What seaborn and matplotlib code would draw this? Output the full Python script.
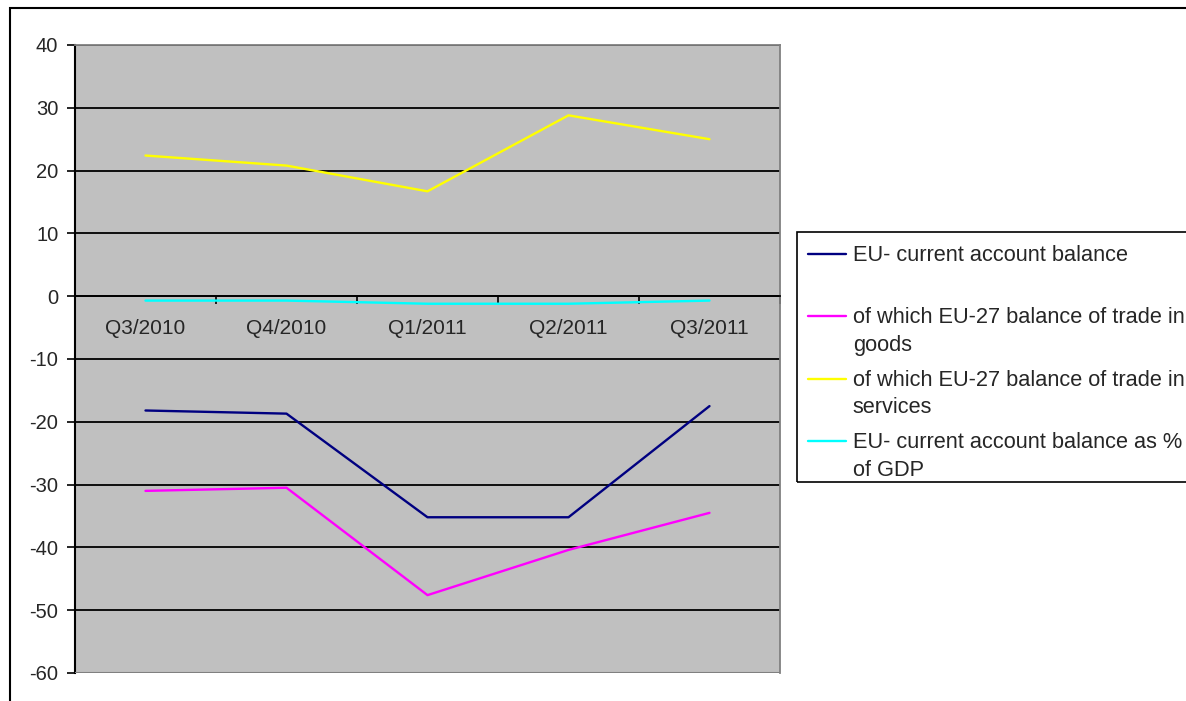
import numpy as np
import pandas as pd
import matplotlib
matplotlib.use("Agg")
import matplotlib.pyplot as plt
import seaborn as sns
from matplotlib.patches import Rectangle

quarters = ["Q3/2010", "Q4/2010", "Q1/2011", "Q2/2011", "Q3/2011"]
current_account = [-18.2, -18.7, -35.2, -35.2, -17.5]
trade_goods = [-31.0, -30.5, -47.6, -40.4, -34.5]
trade_services = [22.4, 20.8, 16.7, 28.8, 25.0]
ca_pct_gdp = [-0.7, -0.7, -1.2, -1.2, -0.7]

series_names = [
    "EU- current account balance",
    "of which EU-27 balance of trade in goods",
    "of which EU-27 balance of trade in services",
    "EU- current account balance as % of GDP",
]
legend_labels = [
    "EU- current account balance\n ",
    "of which EU-27 balance of trade in\ngoods",
    "of which EU-27 balance of trade in\nservices",
    "EU- current account balance as %\nof GDP",
]
colors = ["#000080", "#FF00FF", "#FFFF00", "#00FFFF"]
yticks = [-60, -50, -40, -30, -20, -10, 0, 10, 20, 30, 40]

sns.set_theme(style="white")
plt.rcParams["font.family"] = ["Liberation Sans", "DejaVu Sans"]

rows = []
for name, vals in zip(series_names, [current_account, trade_goods, trade_services, ca_pct_gdp]):
    for i, v in enumerate(vals):
        rows.append({"x": i, "quarter": quarters[i], "value": v, "series": name})
df = pd.DataFrame(rows)

DPI = 100
W, H = 1186, 701
fig = plt.figure(figsize=(W / DPI, H / DPI), dpi=DPI)
ax = fig.add_axes([75 / W, 1 - 673 / H, (780 - 75) / W, (673 - 45) / H])
ax.set_facecolor("#C0C0C0")

sns.lineplot(data=df, x="x", y="value", hue="series", hue_order=series_names,
             palette=dict(zip(series_names, colors)), sort=False, legend=False,
             linewidth=1.7, ax=ax, zorder=3)

ax.set_xlim(-0.5, 4.5)
ax.set_ylim(-60, 40)
ax.set_yticks(yticks)
ax.set_yticklabels([str(t) for t in yticks], fontsize=14.5)
ax.yaxis.grid(True, color="black", linewidth=1.3)
ax.set_axisbelow(True)
ax.set_xlabel("")
ax.set_ylabel("")

# x axis at zero, boundary ticks + centered labels
ax.spines["bottom"].set_position(("data", 0))
ax.spines["bottom"].set_color("black")
ax.spines["bottom"].set_linewidth(1.3)
ax.spines["bottom"].set_zorder(2.8)
ax.set_xticks(np.arange(-0.5, 5.0, 1.0))
ax.set_xticklabels([])
ax.set_xticks(np.arange(len(quarters)), minor=True)
ax.set_xticklabels(quarters, minor=True, fontsize=15)
ax.tick_params(axis="x", which="major", direction="out", length=6, width=1.2, color="black", bottom=True)
ax.tick_params(axis="x", which="minor", length=0, pad=16.5)
ax.tick_params(axis="y", direction="out", length=5.5, width=1.2, color="black", left=True, pad=6.5)

ax.spines["left"].set_color("black")
ax.spines["left"].set_linewidth(1.5)
for s in ["top", "right"]:
    ax.spines[s].set_color("#808080")
    ax.spines[s].set_linewidth(1.3)
ax.axhline(-60, color="#808080", linewidth=1.5, zorder=2.6)

LEG_FS = 15.7
handles = ax.get_lines()[:4]
leg = fig.legend(handles, legend_labels, loc="upper left",
                 bbox_to_anchor=(795 / W, 1 - 232 / H), bbox_transform=fig.transFigure,
                 frameon=False, fontsize=LEG_FS,
                 handlelength=1.75, handletextpad=0.3, borderpad=0.6,
                 labelspacing=0.62, borderaxespad=0)
for t in leg.get_texts():
    t.set_linespacing(1.42)
for ln in leg.get_lines():
    ln.set_linewidth(1.7)

# legend box (Excel style, runs off the right edge)
fig.patches.append(Rectangle((797 / W, 1 - 482 / H), 1.0, (482 - 232) / H, transform=fig.transFigure,
                             fill=False, edgecolor="black", linewidth=1.2, clip_on=False, zorder=5))

# align each legend handle with the first line of its label
fig.canvas.draw()
em_px = LEG_FS * DPI / 72.0
for ln, t in zip(leg.get_lines(), leg.get_texts()):
    bb = t.get_window_extent()
    target = bb.y1 - 0.42 * em_px
    xd = np.asarray(ln.get_xdata(), dtype=float)
    yd = np.asarray(ln.get_ydata(), dtype=float)
    cur = ln.get_transform().transform(np.column_stack([xd, yd]))[:, 1].mean()
    ln.set_ydata(yd + (target - cur) * 72.0 / DPI)

# outer chart frame
fig.patches.append(Rectangle((10 / W, -0.1), 2, 1.1 - 8 / H, transform=fig.transFigure,
                             fill=False, edgecolor="black", linewidth=1.5, clip_on=False))

fig.savefig("out.png", dpi=DPI, facecolor="white")
